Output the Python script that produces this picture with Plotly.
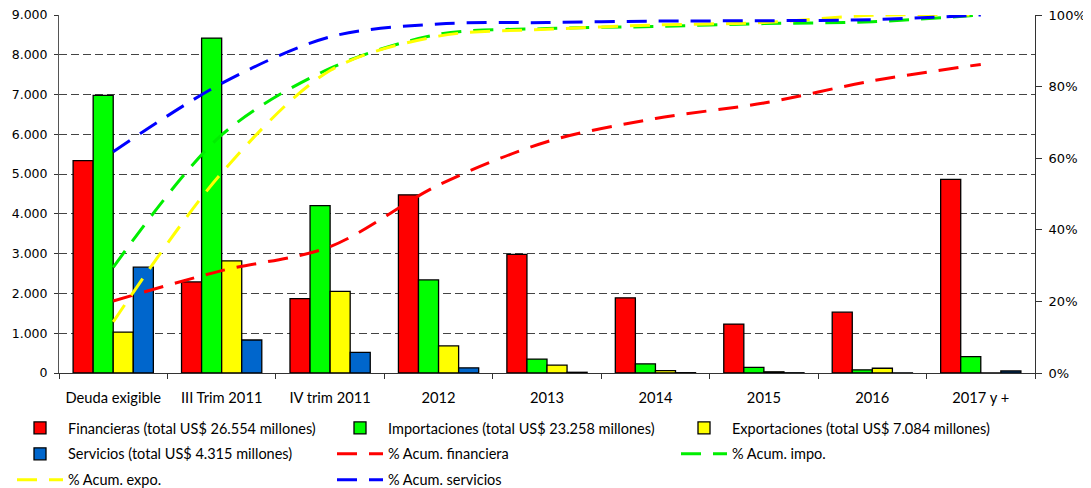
import plotly.graph_objects as go

# categories and values
categories = ["Deuda exigible", "III Trim 2011", "IV trim 2011", "2012", "2013",
              "2014", "2015", "2016", "2017 y +"]
financieras = [5340, 2290, 1870, 4480, 2980, 1890, 1230, 1530, 4870]
importaciones = [6980, 8420, 4210, 2340, 350, 230, 140, 80, 410]
exportaciones = [1030, 2820, 2050, 680, 200, 60, 30, 120, 0]
servicios = [2660, 830, 520, 130, 18, 8, 6, 3, 50]

acum_fin = [0.201, 0.286, 0.353, 0.525, 0.646, 0.711, 0.754, 0.816, 0.862]
acum_impo = [0.295, 0.665, 0.851, 0.946, 0.962, 0.968, 0.976, 0.981, 1.0]
acum_expo = [0.143, 0.559, 0.845, 0.941, 0.960, 0.972, 0.979, 0.999, 1.0]
acum_serv = [0.618, 0.809, 0.939, 0.975, 0.979, 0.983, 0.984, 0.987, 1.0]

W, H = 1091, 488
OFF = 8  # page body margin of the html page
TXT = "Lato, 'Open Sans', sans-serif"
AX = "'DejaVu Sans', Verdana, sans-serif"

bars = [
    ("Financieras (total US$ 26.554 millones)", financieras, "#ff0000", "legend"),
    ("Importaciones (total US$ 23.258 millones)", importaciones, "#00ff00", "legend2"),
    ("Exportaciones (total US$ 7.084 millones)", exportaciones, "#ffff00", "legend3"),
    ("Servicios (total US$ 4.315 millones)", servicios, "#0066cc", "legend"),
]
lines = [
    ("% Acum. financiera", acum_fin, "#ff0000", "legend2"),
    ("% Acum. impo.", acum_impo, "#00ee00", "legend3"),
    ("% Acum. expo.", acum_expo, "#ffff00", "legend"),
    ("% Acum. servicios", acum_serv, "#0000ff", "legend2"),
]

fig = go.Figure()
for i, (name, vals, col, lg) in enumerate(bars):
    fig.add_trace(go.Bar(
        x=categories, y=vals, name=name, legend=lg, legendgroup=f"g{i}",
        marker=dict(color=col, line=dict(color="#000", width=1.3)),
    ))
for i, (name, vals, col, lg) in enumerate(lines):
    fig.add_trace(go.Scatter(
        x=categories, y=vals, name=name, yaxis="y2", mode="lines",
        legend=lg, legendgroup=f"l{i}",
        line=dict(color=col, width=3, dash="20px,12px", shape="spline", smoothing=0.9),
    ))

leg_common = dict(
    orientation="v", xref="container", yref="container", yanchor="top",
    xanchor="left", itemwidth=46, tracegroupgap=4, bgcolor="rgba(0,0,0,0)",
    font=dict(family=TXT, size=14.5, color="#000"), traceorder="grouped",
)
top = 1 - (412 - OFF) / H

fig.update_layout(
    width=W, height=H,
    barmode="group", bargap=0.26, bargroupgap=0,
    separators=",.",
    paper_bgcolor="white", plot_bgcolor="white",
    margin=dict(l=59 - OFF, r=56 + OFF, t=15 - OFF, b=115 + OFF, autoexpand=False),
    font=dict(family=TXT, size=14, color="#000"),
    xaxis=dict(
        showline=True, linecolor="#333", linewidth=1,
        ticks="outside", tickson="boundaries", ticklen=5, tickcolor="#333",
        ticklabelstandoff=11, showgrid=False, tickangle=0,
        tickfont=dict(family=TXT, size=14.7, color="#000"),
    ),
    yaxis=dict(
        range=[0, 9000], dtick=1000, tickformat=",d",
        showline=True, linecolor="#555", linewidth=1,
        ticks="outside", ticklen=4, tickcolor="#333",
        showgrid=True, gridcolor="#444", gridwidth=1, griddash="8px,4px",
        zeroline=False, ticklabelstandoff=4, ticklabeloverflow="allow",
        tickfont=dict(family=AX, size=12.5, color="#000"),
    ),
    yaxis2=dict(
        overlaying="y", side="right", range=[0, 1], dtick=0.2, tickformat=".0%",
        showline=True, linecolor="#333", linewidth=1,
        ticks="outside", ticklen=6, tickcolor="#333",
        showgrid=False, zeroline=False, ticklabelstandoff=4, ticklabeloverflow="allow",
        tickfont=dict(family=AX, size=13, color="#000"),
    ),
    legend=dict(x=(12 - OFF) / W, y=top, **leg_common),
    legend2=dict(x=(332 - OFF) / W, y=top, **leg_common),
    legend3=dict(x=(676 - OFF) / W, y=top, **leg_common),
)

fig.write_html("out.html")
